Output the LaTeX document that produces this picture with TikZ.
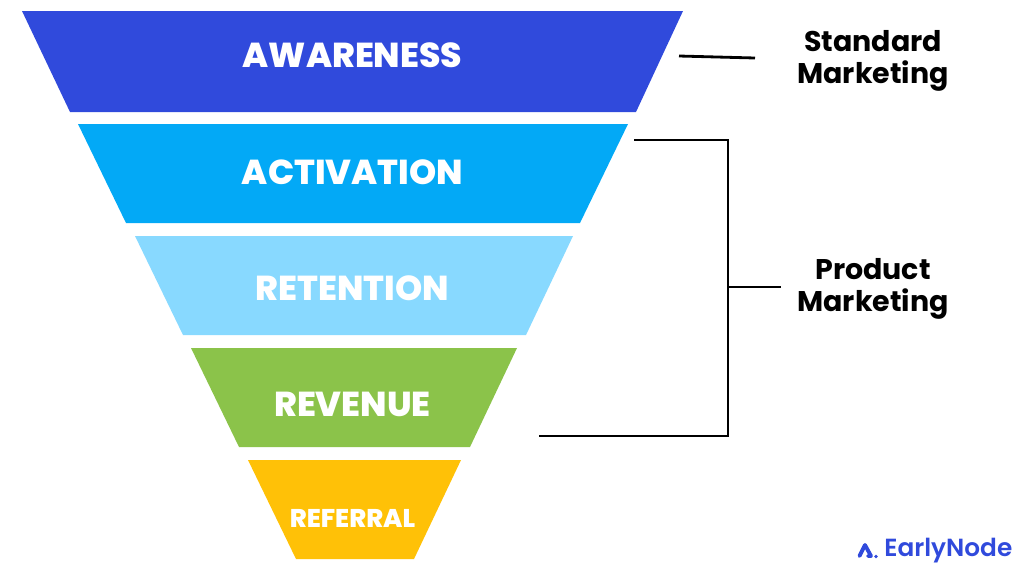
\documentclass[tikz,border=0pt]{standalone}
\usepackage{fontspec}
\setmainfont{Poppins}
\newfontfamily\stagefont{Poppins ExtraBold}
\newfontfamily\logofont{Poppins SemiBold}
\usepackage{xcolor}
\usetikzlibrary{positioning}
\definecolor{awarenessblue}{HTML}{304ADC}
\definecolor{activationblue}{HTML}{03A9F6}
\definecolor{retentionblue}{HTML}{88D9FF}
\definecolor{revenuegreen}{HTML}{8BC34A}
\definecolor{referralyellow}{HTML}{FFC107}

\begin{document}
\begin{tikzpicture}[
  x=0.02cm, y=-0.02cm,
  stagelabel/.style={font=\stagefont\fontsize{19.7}{22}\selectfont, text=white},
  sidelabel/.style={font=\bfseries\fontsize{16.2}{18.2}\selectfont, align=center, text=black},
  bracket/.style={line width=1.6pt, line join=miter}
]
\useasboundingbox (0,0) rectangle (1024,576);

%% Funnel
\fill[awarenessblue] (22,11) -- (683,11) -- (636,112) -- (70,112) -- cycle;
\fill[activationblue] (78,124) -- (628,124) -- (580,223) -- (126,223) -- cycle;
\fill[retentionblue] (135,236) -- (573,236) -- (526,335) -- (183,335) -- cycle;
\fill[revenuegreen] (191,348) -- (517,348) -- (470,447) -- (239,447) -- cycle;
\fill[referralyellow] (248,460) -- (461,460) -- (414,559) -- (296,559) -- cycle;

%% Labels
\node[stagelabel] (awareness) at (352.5,55) {AWARENESS};
\node[stagelabel] (activation) at (352.5,172) {ACTIVATION};
\node[stagelabel] (retention) at (352.5,288) {RETENTION};
\node[stagelabel] (revenue) at (352.5,404) {REVENUE};
\node[stagelabel, font=\stagefont\fontsize{14.6}{16}\selectfont] (referral) at (352.5,518) {REFERRAL};
\node[sidelabel] (standard) at (873,61) {Standard\\Marketing};
\node[sidelabel] (product) at (873,289) {Product\\Marketing};

%% Connectors
\coordinate (standardin) at (679,56);
\coordinate (standardout) at (755,58);
\coordinate (bracketup) at (634,140);
\coordinate (bracketlow) at (539,436);
\coordinate (bracketmid) at (728,287);
\coordinate (bracketout) at (781,287);
\draw[bracket] (standardin) -- (standardout);
\draw[bracket] (bracketup) -| (bracketmid) |- (bracketlow);
\draw[bracket] (bracketmid) -- (bracketout);

%% Logo
\node[font=\logofont\fontsize{14.1}{18}\selectfont, text=awarenessblue, anchor=west, inner sep=0pt] (logotext) at (884,551) {EarlyNode};
\draw[awarenessblue, line width=2.2pt, line join=round, line cap=round] (859.5,556) -- (865,545) -- (871,556) -- (868,556);
\fill[awarenessblue] (876,556.5) circle (1.8);
\end{tikzpicture}
\end{document}
